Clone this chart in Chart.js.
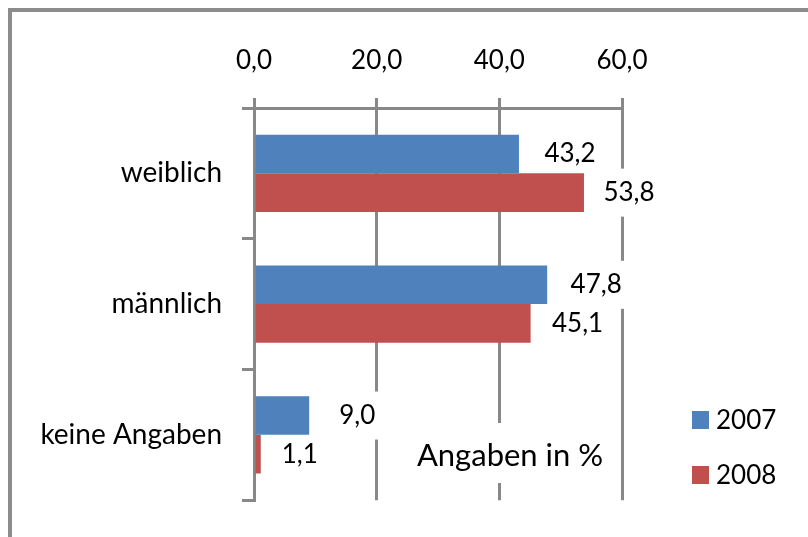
<!DOCTYPE html>
<html>
<head>
<meta charset="utf-8">
<script src="https://cdn.jsdelivr.net/npm/chart.js@4/dist/chart.umd.min.js"></script>
<style>
  html, body { margin: 0; padding: 0; background: #ffffff; }
  canvas { display: block; }
</style>
</head>
<body>
<canvas id="chart" width="808" height="537"></canvas>
<script>
// Survey answers by gender, 2007 vs 2008 (percent)
const categories = ['weiblich', 'männlich', 'keine Angaben'];
const seriesNames = ['2007', '2008'];
const values2007 = [43.2, 47.8, 9.0];
const values2008 = [53.8, 45.1, 1.1];
const xTicks = [0, 20, 40, 60];
const unitNote = 'Angaben in %';

const GRAY = '#888888';
const FONT = 'Lato, "Open Sans", sans-serif';
const COLORS = ['#4F81BD', '#C0504D'];
const fmt = v => Number(v).toFixed(1).replace('.', ',');

// Outer frame (left and top edges of the chart border)
const frame = {
  id: 'frame',
  beforeDraw(chart) {
    const ctx = chart.ctx;
    ctx.save();
    ctx.fillStyle = '#ffffff';
    ctx.fillRect(0, 0, chart.width, chart.height);
    ctx.strokeStyle = '#8c8c8c';
    ctx.lineWidth = 4;
    ctx.beginPath();
    ctx.moveTo(10, chart.height + 2);
    ctx.lineTo(10, 10);
    ctx.lineTo(chart.width + 2, 10);
    ctx.stroke();
    ctx.restore();
  }
};

// Value labels beside the bars, on white boxes that cut through the grid
const valueLabels = {
  id: 'valueLabels',
  items(chart, opts) {
    const out = [];
    const ctx = chart.ctx;
    ctx.save();
    ctx.font = opts.size + 'px ' + FONT;
    chart.data.datasets.forEach((ds, d) => {
      chart.getDatasetMeta(d).data.forEach((el, i) => {
        const text = fmt(ds.data[i]);
        const w = ctx.measureText(text).width;
        out.push({ text, w, cx: el.x + opts.offsets[d][i], cy: el.y });
      });
    });
    ctx.restore();
    return out;
  },
  beforeDatasetsDraw(chart, args, opts) {
    const ctx = chart.ctx;
    ctx.save();
    ctx.fillStyle = '#ffffff';
    this.items(chart, opts).forEach(it => {
      ctx.fillRect(it.cx - it.w / 2 - 7, it.cy - 24, it.w + 14, 48);
    });
    // unit note box
    ctx.font = opts.noteSize + 'px ' + FONT;
    const nw = ctx.measureText(unitNote).width;
    ctx.fillRect(opts.noteX - nw / 2 - 8, opts.noteY - 30, nw + 16, 60);
    ctx.restore();
  },
  afterDatasetsDraw(chart, args, opts) {
    const ctx = chart.ctx;
    ctx.save();
    ctx.fillStyle = '#000000';
    ctx.textAlign = 'center';
    ctx.textBaseline = 'middle';
    ctx.font = opts.size + 'px ' + FONT;
    this.items(chart, opts).forEach(it => ctx.fillText(it.text, it.cx, it.cy));
    ctx.font = opts.noteSize + 'px ' + FONT;
    ctx.fillText(unitNote, opts.noteX, opts.noteY + 3);
    ctx.restore();
  }
};

// Legend drawn at the lower right
const sideLegend = {
  id: 'sideLegend',
  afterDraw(chart, args, opts) {
    const ctx = chart.ctx;
    ctx.save();
    ctx.font = opts.size + 'px ' + FONT;
    ctx.textBaseline = 'middle';
    ctx.textAlign = 'left';
    chart.data.datasets.forEach((ds, d) => {
      const y = opts.y + d * opts.gap;
      ctx.fillStyle = ds.backgroundColor;
      ctx.fillRect(opts.x, y - 9, 17, 18);
      ctx.fillStyle = '#000000';
      ctx.fillText(ds.label, opts.x + 24, y + 1);
    });
    ctx.restore();
  }
};

new Chart(document.getElementById('chart'), {
  type: 'bar',
  data: {
    labels: categories,
    datasets: [
      { label: seriesNames[0], data: values2007, backgroundColor: COLORS[0] },
      { label: seriesNames[1], data: values2008, backgroundColor: COLORS[1] }
    ]
  },
  options: {
    indexAxis: 'y',
    responsive: false,
    animation: false,
    events: [],
    layout: { padding: { left: 0, top: 0, right: 186, bottom: 32 } },
    datasets: { bar: { categoryPercentage: 0.59, barPercentage: 1, borderWidth: 0 } },
    plugins: {
      legend: { display: false },
      tooltip: { enabled: false },
      valueLabels: {
        size: 26,
        offsets: [[51, 49, 48], [45, 47, 39]],
        noteSize: 31, noteX: 510, noteY: 453
      },
      sideLegend: { size: 26, x: 692, y: 420, gap: 55 }
    },
    scales: {
      x: {
        type: 'linear',
        position: 'top',
        min: 0,
        max: 60,
        afterBuildTicks: s => { s.ticks = xTicks.map(v => ({ value: v })); },
        afterFit: s => { s.height = 108; },
        ticks: {
          callback: v => fmt(v),
          font: { family: FONT, size: 26 },
          color: '#000000',
          padding: 22
        },
        grid: { color: GRAY, lineWidth: 3, tickLength: 10 },
        border: { color: GRAY, width: 3 }
      },
      y: {
        type: 'category',
        afterFit: s => { s.width = 254; },
        ticks: {
          font: { family: FONT, size: 28 },
          color: '#000000',
          padding: 20
        },
        grid: { drawOnChartArea: false, offset: true, color: GRAY, lineWidth: 3, tickLength: 12 },
        border: { color: GRAY, width: 3 }
      }
    }
  },
  plugins: [frame, valueLabels, sideLegend]
});
</script>
</body>
</html>
